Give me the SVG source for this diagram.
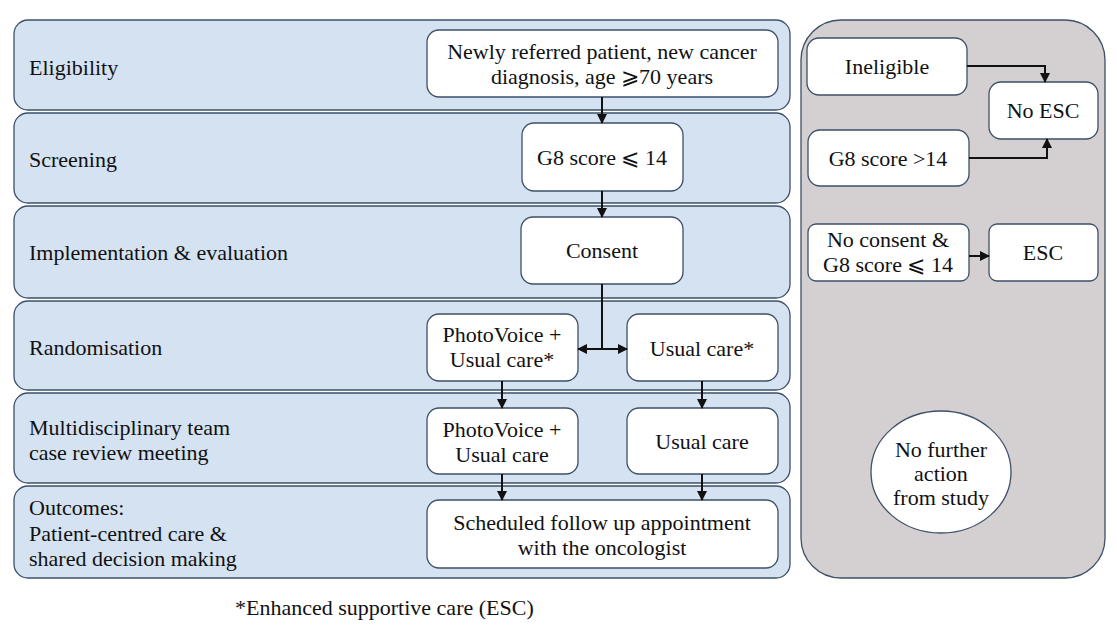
<svg xmlns="http://www.w3.org/2000/svg" width="1117" height="633" viewBox="0 0 1117 633">
<style>
text{font-family:"Liberation Serif",serif;font-size:22px;fill:#111}
.row{fill:#d5e2f1;stroke:#3d5068;stroke-width:1.3}
.box{fill:#fff;stroke:#3d5068;stroke-width:1.3}
.c{text-anchor:middle}
.ln{fill:none;stroke:#111;stroke-width:2;marker-end:url(#a)}
</style>
<defs><marker id="a" viewBox="0 0 10 10" refX="9" refY="5" markerWidth="5" markerHeight="5" orient="auto"><path d="M0,0L10,5L0,10z" fill="#111"/></marker></defs>
<rect width="1117" height="633" fill="#fff"/>
<g id="rows">
<rect class="row" x="14" y="20" width="776" height="90" rx="14"/>
<rect class="row" x="14" y="113" width="776" height="90" rx="14"/>
<rect class="row" x="14" y="206" width="776" height="92" rx="14"/>
<rect class="row" x="14" y="301" width="776" height="89" rx="14"/>
<rect class="row" x="14" y="393" width="776" height="90" rx="14"/>
<rect class="row" x="14" y="486" width="776" height="92" rx="14"/>
<text x="29" y="75">Eligibility</text>
<text x="29" y="167">Screening</text>
<text x="29" y="260">Implementation &amp; evaluation</text>
<text x="29" y="355">Randomisation</text>
<text x="29" y="435">Multidisciplinary team</text>
<text x="29" y="460">case review meeting</text>
<text x="29" y="515">Outcomes:</text>
<text x="29" y="541">Patient-centred care &amp;</text>
<text x="29" y="566">shared decision making</text>
</g>
<rect id="side" x="801" y="20" width="304" height="558" rx="40" fill="#d4cfd0" stroke="#3d5068" stroke-width="1.3"/>
<g id="n1"><rect class="box" x="427" y="30" width="351" height="67" rx="12"/><text class="c" x="602" y="59">Newly referred patient, new cancer</text><text class="c" x="602" y="84">diagnosis, age ⩾70 years</text></g>
<g id="n2"><rect class="box" x="522" y="123" width="161" height="68" rx="12"/><text class="c" x="602" y="165">G8 score ⩽ 14</text></g>
<g id="n3"><rect class="box" x="521" y="217" width="162" height="67" rx="12"/><text class="c" x="602" y="258">Consent</text></g>
<g id="n4"><rect class="box" x="427" y="314" width="151" height="67" rx="12"/><text class="c" x="502" y="342">PhotoVoice +</text><text class="c" x="502" y="367">Usual care*</text></g>
<g id="n5"><rect class="box" x="627" y="314" width="151" height="67" rx="12"/><text class="c" x="702" y="356">Usual care*</text></g>
<g id="n6"><rect class="box" x="427" y="408" width="151" height="66" rx="12"/><text class="c" x="502" y="437">PhotoVoice +</text><text class="c" x="502" y="462">Usual care</text></g>
<g id="n7"><rect class="box" x="627" y="408" width="151" height="66" rx="12"/><text class="c" x="702" y="449">Usual care</text></g>
<g id="n8"><rect class="box" x="427" y="500" width="351" height="68" rx="12"/><text class="c" x="602" y="530">Scheduled follow up appointment</text><text class="c" x="602" y="555">with the oncologist</text></g>
<g id="n9"><rect class="box" x="807" y="38" width="160" height="57" rx="12"/><text class="c" x="887" y="74">Ineligible</text></g>
<g id="n10"><rect class="box" x="989" y="82" width="109" height="57" rx="12"/><text class="c" x="1043" y="118">No ESC</text></g>
<g id="n11"><rect class="box" x="808" y="130" width="161" height="56" rx="12"/><text class="c" x="888" y="166">G8 score &gt;14</text></g>
<g id="n12"><rect class="box" x="808" y="224" width="161" height="57" rx="8"/><text class="c" x="888" y="247">No consent &amp;</text><text class="c" x="888" y="272">G8 score ⩽ 14</text></g>
<g id="n13"><rect class="box" x="989" y="224" width="109" height="57" rx="8"/><text class="c" x="1043" y="260">ESC</text></g>
<g id="n14"><ellipse class="box" cx="941" cy="472" rx="70" ry="61"/><text class="c" x="941" y="457">No further</text><text class="c" x="941" y="481">action</text><text class="c" x="941" y="505">from study</text></g>
<g id="connectors">
<path class="ln" d="M602,97V123"/>
<path class="ln" d="M602,191V217"/>
<path d="M602,284V349" fill="none" stroke="#111" stroke-width="2"/>
<path class="ln" d="M602,349H578"/>
<path class="ln" d="M602,349H627"/>
<path class="ln" d="M502,381V408"/>
<path class="ln" d="M702,381V408"/>
<path class="ln" d="M502,474V500"/>
<path class="ln" d="M702,474V500"/>
<path class="ln" d="M967,66H1045V82"/>
<path class="ln" d="M969,158H1047V139"/>
<path class="ln" d="M969,256H989"/>
</g>
<text x="235" y="615">*Enhanced supportive care (ESC)</text>
</svg>
